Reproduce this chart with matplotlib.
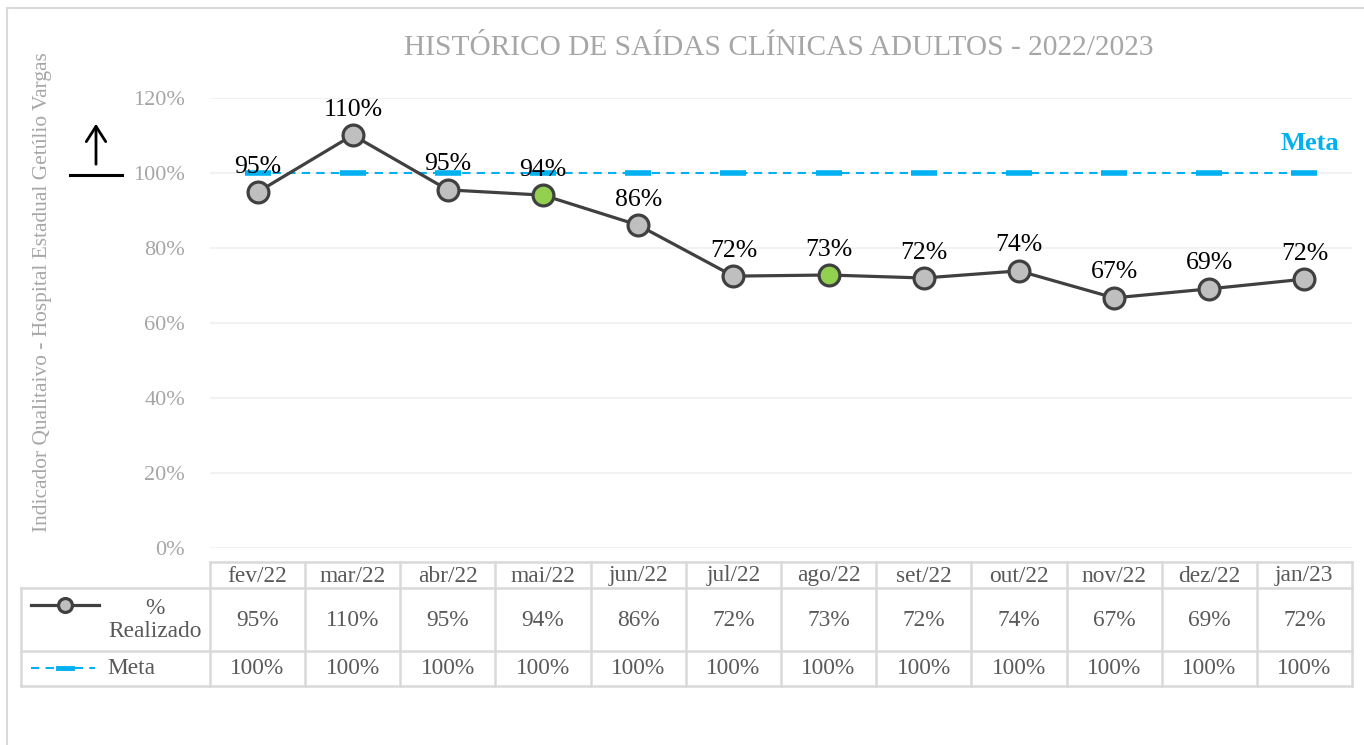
import matplotlib
matplotlib.use("Agg")
import matplotlib.pyplot as plt
from matplotlib.lines import Line2D
from matplotlib.transforms import blended_transform_factory

plt.rcParams['font.family'] = ['Liberation Serif', 'DejaVu Serif']

months = ["fev/22", "mar/22", "abr/22", "mai/22", "jun/22", "jul/22",
          "ago/22", "set/22", "out/22", "nov/22", "dez/22", "jan/23"]
realizado = [0.949, 1.101, 0.955, 0.941, 0.861, 0.725, 0.728, 0.720, 0.739, 0.667, 0.691, 0.717]
realizado_labels = ["95%", "110%", "95%", "94%", "86%", "72%", "73%", "72%", "74%", "67%", "69%", "72%"]
meta = [1.0] * 12
meta_labels = ["100%"] * 12
highlight = [3, 6]  # green markers
yticks = [0, 0.2, 0.4, 0.6, 0.8, 1.0, 1.2]
ytick_labels = ["0%", "20%", "40%", "60%", "80%", "100%", "120%"]

W, H = 1364, 745
fig = plt.figure(figsize=(W / 100, H / 100), dpi=100)

def fx(px):
    return px / W

def fy(py):
    return 1 - py / H

ax = fig.add_axes([fx(210), fy(548), fx(1352) - fx(210), fy(98) - fy(548)])
x = list(range(len(months)))

GRAY_TXT = "#A6A6A6"
LINE_C = "#404040"
BLUE = "#00B0F0"
TBL = "#D9D9D9"
TBL_TXT = "#595959"

ax.set_xlim(-0.5, len(months) - 0.5)
ax.set_ylim(0, 1.2)
ax.set_yticks(yticks)
ax.set_yticklabels(ytick_labels, color=GRAY_TXT, fontsize=16)
ax.tick_params(axis='y', length=0, pad=18)
ax.set_xticks([])
for s in ax.spines.values():
    s.set_visible(False)
ax.grid(axis='y', color="#F0F0F0", linewidth=1.2)
ax.set_axisbelow(True)

# Meta line
ax.plot(x, meta, color=BLUE, linewidth=1.5, linestyle=(0, (4, 3)), zorder=2)
ax.plot(x, meta, linestyle='none', marker='_', markersize=19, markeredgewidth=4,
        color=BLUE, zorder=2)

# Realizado line
ax.plot(x, realizado, color=LINE_C, linewidth=2.3, zorder=3)
faces = ["#92D050" if i in highlight else "#BFBFBF" for i in x]
for i in x:
    ax.plot(i, realizado[i], marker='o', markersize=15, markerfacecolor=faces[i],
            markeredgecolor=LINE_C, markeredgewidth=2.3, linestyle='none', zorder=4)
    ax.annotate(realizado_labels[i], (i, realizado[i]), xytext=(0, 14),
                textcoords='offset points', ha='center', va='baseline',
                fontsize=18.5, color='black', zorder=5)

ax.text(11.06, 1.08, "Meta", color=BLUE, fontsize=19, fontweight='bold',
        ha='center', va='center')

# Title
fig.text(fx(779), fy(48), "HISTÓRICO DE SAÍDAS CLÍNICAS ADULTOS - 2022/2023",
         ha='center', va='center', fontsize=21.2, color=GRAY_TXT)

# Y label
fig.text(fx(43), fy(292), "Indicador Qualitaivo - Hospital Estadual Getúlio Vargas",
         rotation=90, ha='center', va='center', fontsize=15.4, color=GRAY_TXT)

# Arrow symbol
fig.add_artist(Line2D([fx(70), fx(122)], [fy(175), fy(175)], color='black', lw=2.2))
ax.annotate("", xy=(fx(96), fy(121)), xytext=(fx(96), fy(167)), xycoords='figure fraction',
            textcoords='figure fraction',
            arrowprops=dict(arrowstyle='->,head_length=1.1,head_width=0.7', color='black', lw=2.0))

# Outer border
fig.add_artist(Line2D([fx(7), fx(7)], [fy(8), fy(745)], color="#D9D9D9", lw=1.5))
fig.add_artist(Line2D([fx(7), fx(1364)], [fy(8), fy(8)], color="#D9D9D9", lw=1.5))

# Data table
tr = blended_transform_factory(ax.transData, fig.transFigure)
y_top, y_h1, y_r1, y_bot = fy(562), fy(588), fy(651), fy(686)
n = len(months)
lw = 1.8
fig.add_artist(Line2D([-0.5, n - 0.5], [y_top, y_top], transform=tr, color=TBL, lw=lw, clip_on=False))
for yy in [y_h1, y_r1, y_bot]:
    fig.add_artist(Line2D([fx(21), fx(1352)], [yy, yy], color=TBL, lw=lw))
for k in range(n + 1):
    fig.add_artist(Line2D([k - 0.5, k - 0.5], [y_bot, y_top], transform=tr, color=TBL, lw=lw, clip_on=False))
fig.add_artist(Line2D([fx(21), fx(21)], [y_bot, y_h1], color=TBL, lw=lw))

TFS = 16.8
for i in x:
    fig.text(i, fy(576), months[i], transform=tr, ha='center', va='center', fontsize=TFS, color=TBL_TXT)
    fig.text(i, fy(620), realizado_labels[i], transform=tr, ha='center', va='center', fontsize=TFS, color=TBL_TXT)
    fig.text(i, fy(669), meta_labels[i], transform=tr, ha='center', va='center', fontsize=TFS, color=TBL_TXT)

# legend keys
fig.add_artist(Line2D([fx(31), fx(99)], [fy(605), fy(605)], color=LINE_C, lw=2.3))
fig.add_artist(Line2D([fx(65)], [fy(605)], marker='o', markersize=10, markerfacecolor="#BFBFBF",
                      markeredgecolor=LINE_C, markeredgewidth=2.3))
fig.text(fx(155), fy(620), "%\nRealizado", ha='center', va='center', fontsize=TFS,
         color=TBL_TXT, linespacing=1.15)
fig.add_artist(Line2D([fx(31), fx(95)], [fy(668), fy(668)], color=BLUE, lw=1.5, linestyle=(0, (4, 3))))
fig.add_artist(Line2D([fx(58), fx(72)], [fy(668), fy(668)], color=BLUE, lw=3.5))
fig.text(fx(107), fy(669), "Meta", ha='left', va='center', fontsize=TFS, color=TBL_TXT)

fig.savefig("out.png", dpi=100)
